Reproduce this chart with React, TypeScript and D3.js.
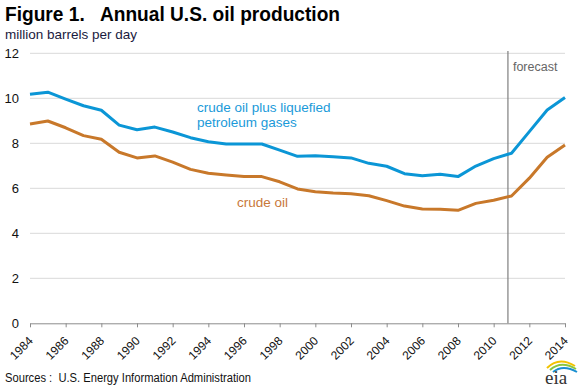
import React, { useRef, useEffect } from 'react';
import * as d3 from 'd3';

const years = d3.range(1984, 2015);
const crudePlusLpg = [
  10.18, 10.27, 9.96, 9.67, 9.47, 8.81, 8.6, 8.72, 8.5, 8.25, 8.07, 7.97, 7.97, 7.97, 7.7, 7.42,
  7.45, 7.4, 7.35, 7.11, 6.98, 6.65, 6.56, 6.62, 6.52, 6.99, 7.32, 7.56, 8.52, 9.48, 10.04,
];
const crudeOil = [
  8.86, 8.99, 8.69, 8.34, 8.18, 7.6, 7.35, 7.44, 7.16, 6.84, 6.67, 6.59, 6.52, 6.52, 6.29, 5.97,
  5.85, 5.79, 5.76, 5.67, 5.45, 5.21, 5.08, 5.07, 5.02, 5.33, 5.47, 5.66, 6.45, 7.38, 7.92,
];
const yTicks = [0, 2, 4, 6, 8, 10, 12];
const xTicks = d3.range(1984, 2015, 2);
const forecastStart = 2010.8;

function App() {
  const svgRef = useRef<SVGSVGElement>(null);

  useEffect(() => {
    const w = 579;
    const h = 387;
    const svg = d3.select(svgRef.current);
    svg.selectAll('*').remove();
    svg.attr('width', w).attr('height', h);

    const font = '"Liberation Sans", Arial, sans-serif';

    const x = d3.scaleLinear().domain([1984, 2014]).range([30, 565]);
    const y = d3.scaleLinear().domain([0, 12]).range([323.3, 53.3]);

    // title
    svg.append('text')
      .attr('x', 5).attr('y', 21)
      .attr('font-family', font).attr('font-weight', 'bold').attr('font-size', 20)
      .attr('fill', '#000')
      .attr('textLength', 335).attr('lengthAdjust', 'spacingAndGlyphs')
      .style('white-space', 'pre')
      .text('Figure 1.   Annual U.S. oil production');

    svg.append('text')
      .attr('x', 5).attr('y', 39)
      .attr('font-family', font).attr('font-size', 13.5)
      .attr('fill', '#1a1a40')
      .text('million barrels per day');

    // grid
    svg.append('g')
      .selectAll('line')
      .data(yTicks.filter(d => d > 0))
      .join('line')
      .attr('x1', x(1984)).attr('x2', x(2014))
      .attr('y1', d => y(d)).attr('y2', d => y(d))
      .attr('stroke', '#d9d9d9').attr('stroke-width', 1);

    // y labels
    svg.append('g')
      .selectAll('text')
      .data(yTicks)
      .join('text')
      .attr('x', 19).attr('y', d => y(d) + 5)
      .attr('text-anchor', 'end')
      .attr('font-family', font).attr('font-size', 13)
      .attr('fill', '#111')
      .text(d => d);

    // x axis
    const xAxis = d3.axisBottom(x)
      .tickValues(xTicks)
      .tickFormat(d => String(d))
      .tickSize(4)
      .tickSizeOuter(0);
    const gx = svg.append('g')
      .attr('transform', `translate(0, ${y(0)})`)
      .call(xAxis);
    gx.select('.domain').attr('stroke', '#8c8c8c');
    gx.selectAll('.tick line').attr('stroke', '#8c8c8c');
    gx.selectAll('.tick text')
      .attr('font-family', font).attr('font-size', 12)
      .attr('fill', '#111')
      .attr('text-anchor', 'end')
      .attr('dy', null)
      .attr('transform', 'translate(1, 16) rotate(-45)')
      .attr('y', 0).attr('x', 0)
      .attr('dominant-baseline', 'middle');

    // forecast line
    svg.append('line')
      .attr('x1', x(forecastStart)).attr('x2', x(forecastStart))
      .attr('y1', 51).attr('y2', y(0))
      .attr('stroke', '#7f7f7f').attr('stroke-width', 1.2);
    svg.append('text')
      .attr('x', x(forecastStart) + 5).attr('y', 71)
      .attr('font-family', font).attr('font-size', 12.5)
      .attr('fill', '#666')
      .text('forecast');

    const line = d3.line<number>()
      .x((d, i) => x(years[i]))
      .y(d => y(d));

    svg.append('path')
      .datum(crudePlusLpg)
      .attr('d', line)
      .attr('fill', 'none')
      .attr('stroke', '#0b96d6')
      .attr('stroke-width', 3)
      .attr('stroke-linejoin', 'round');

    svg.append('path')
      .datum(crudeOil)
      .attr('d', line)
      .attr('fill', 'none')
      .attr('stroke', '#c8782a')
      .attr('stroke-width', 3)
      .attr('stroke-linejoin', 'round');

    // series labels
    const blue = svg.append('text')
      .attr('font-family', font).attr('font-size', 13.5)
      .attr('fill', '#1a9ad9');
    blue.append('tspan').attr('x', 197).attr('y', 112).text('crude oil plus liquefied');
    blue.append('tspan').attr('x', 197).attr('y', 127).text('petroleum gases');

    svg.append('text')
      .attr('x', 237).attr('y', 207)
      .attr('font-family', font).attr('font-size', 13.5)
      .attr('fill', '#c8783a')
      .text('crude oil');

    // sources
    svg.append('text')
      .attr('x', 5).attr('y', 382)
      .attr('font-family', font).attr('font-size', 12.5)
      .attr('fill', '#111')
      .attr('textLength', 246).attr('lengthAdjust', 'spacingAndGlyphs')
      .style('white-space', 'pre')
      .text('Sources :  U.S. Energy Information Administration');

    // eia logo
    const logo = svg.append('g').attr('transform', 'translate(545, 362)');
    logo.append('path')
      .attr('d', 'M2,6 Q14,-6 30,4')
      .attr('fill', 'none').attr('stroke', '#f2c200').attr('stroke-width', 2);
    logo.append('path')
      .attr('d', 'M5,8 Q16,-2 31,7')
      .attr('fill', 'none').attr('stroke', '#8cc63e').attr('stroke-width', 2);
    logo.append('path')
      .attr('d', 'M8,10 Q18,2 32,10')
      .attr('fill', 'none').attr('stroke', '#1a8fd0').attr('stroke-width', 2);
    logo.append('text')
      .attr('x', 0).attr('y', 22)
      .attr('font-family', '"Liberation Serif", serif').attr('font-size', 19)
      .attr('fill', '#333')
      .text('eia');
  }, []);

  return (
    <svg ref={svgRef} style={{ position: 'absolute', left: 0, top: 0, display: 'block' }}></svg>
  );
}

export default App;
